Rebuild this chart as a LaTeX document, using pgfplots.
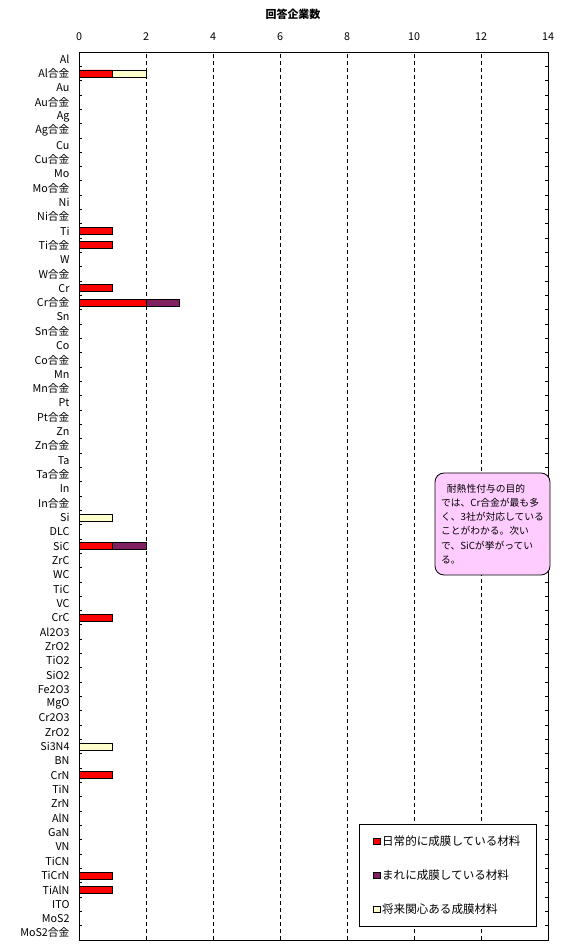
\documentclass[border=0pt]{standalone}
\usepackage{pgfplots}
\pgfplotsset{compat=1.18}
\usepackage{pgfplotstable}
\usepackage{fontspec}
\setmainfont{Noto Sans CJK JP}
\definecolor{cred}{RGB}{255,0,0}
\definecolor{cplum}{RGB}{128,32,96}
\definecolor{cyel}{RGB}{255,255,204}
\definecolor{cpink}{RGB}{255,204,255}

\pgfplotstableread{
y red purple yellow
60 1 0 1
49 1 0 0
48 1 0 0
45 1 0 0
44 2 1 0
29 0 0 1
27 1 1 0
22 1 0 0
13 0 0 1
11 1 0 0
4 1 0 0
3 1 0 0
}\datatable

\begin{document}
\begin{tikzpicture}[x=1bp,y=1bp]
\useasboundingbox (0,0) rectangle (564,946);
\begin{axis}[
  at={(79bp,6bp)}, anchor=south west,
  scale only axis, width=469bp, height=888bp,
  xbar stacked, bar width=7bp,
  xmin=0, xmax=14, ymin=-0.5, ymax=61.5,
  xtick={0,2,...,14}, xticklabel pos=upper,
  xmajorgrids, major grid style={black, dash pattern=on 4bp off 3bp, line width=0.8bp},
  major x tick style={draw=none},
  ytick={0,...,61},
  major y tick style={draw=none},
  minor ytick={0.5,1.5,...,60.5},
  minor y tick style={black, line width=0.8bp},
  minor tick length=3bp,
  yticklabels={MoS2合金,MoS2,ITO,TiAlN,TiCrN,TiCN,VN,GaN,AlN,ZrN,TiN,CrN,BN,Si3N4,ZrO2,Cr2O3,MgO,Fe2O3,SiO2,TiO2,ZrO2,Al2O3,CrC,VC,TiC,WC,ZrC,SiC,DLC,Si,In合金,In,Ta合金,Ta,Zn合金,Zn,Pt合金,Pt,Mn合金,Mn,Co合金,Co,Sn合金,Sn,Cr合金,Cr,W合金,W,Ti合金,Ti,Ni合金,Ni,Mo合金,Mo,Cu合金,Cu,Ag合金,Ag,Au合金,Au,Al合金,Al},
  yticklabel style={font=\fontsize{10.8}{11}\selectfont, xshift=-6bp},
  xticklabel style={font=\fontsize{10.8}{11}\selectfont, yshift=8bp},
  /pgf/number format/assume math mode=true,
  axis line style={black, line width=0.9bp},
  legend cell align=left,
  legend style={at={(0.597,0.1306)}, anchor=north west, draw=black, line width=1bp,
    font=\fontsize{11.6}{12}\selectfont, inner xsep=14bp, inner ysep=9bp,
    row sep=19bp},
  legend image code/.code={\draw[#1, line width=0.7bp] (0bp,-3bp) rectangle (6bp,3bp);},
]
\addplot[fill=cred, draw=black, line width=0.7bp] table[x=red, y=y] {\datatable};
\addplot[fill=cplum, draw=black, line width=0.7bp] table[x=purple, y=y] {\datatable};
\addplot[fill=cyel, draw=black, line width=0.7bp] table[x=yellow, y=y] {\datatable};
\legend{日常的に成膜している材料, まれに成膜している材料, 将来関心ある成膜材料}
\end{axis}
\node[font=\bfseries\fontsize{11}{12}\selectfont] at (293,932) {回答企業数};
\node[draw=black, line width=0.8bp, fill=cpink, rounded corners=9bp, minimum width=115bp, minimum height=102bp,
  align=left, inner sep=4bp, font=\fontsize{9.8}{14.3}\selectfont] at (492.5,422)
  {\hspace*{0.6em}耐熱性付与の目的\\では、Cr合金が最も多\\く、3社が対応している\\ことがわかる。次い\\で、SiCが挙がってい\\る。};
\end{tikzpicture}
\end{document}
